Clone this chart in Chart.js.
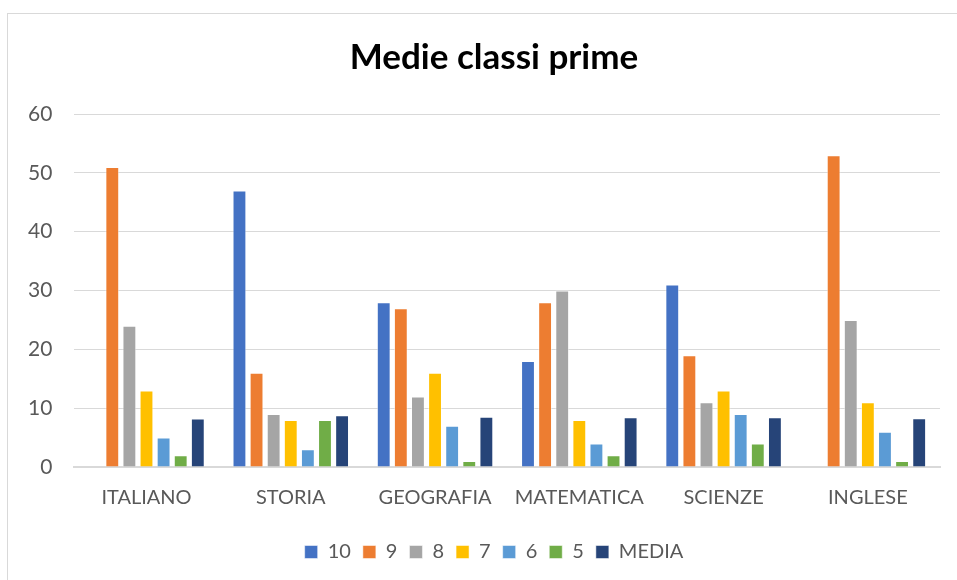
<!DOCTYPE html>
<html>
<head>
<meta charset="utf-8">
<script src="https://cdn.jsdelivr.net/npm/chart.js@4"></script>
<style>
  html, body { margin: 0; padding: 0; background: #fff; }
  #wrap { position: relative; width: 957px; height: 580px; }
  #frame { position: absolute; left: 7px; top: 13px; width: 960px; height: 580px; border: 1px solid #d9d9d9; box-sizing: border-box; }
  canvas { position: absolute; left: 0; top: 0; }
</style>
</head>
<body>
<div id="wrap">
  <div id="frame"></div>
  <canvas id="BarChart" width="957" height="580"></canvas>
</div>
<script>
const materie = ['ITALIANO', 'STORIA', 'GEOGRAFIA', 'MATEMATICA', 'SCIENZE', 'INGLESE'];
const voto10 = [0, 47, 28, 18, 31, 0];
const voto9 = [51, 16, 27, 28, 19, 53];
const voto8 = [24, 9, 12, 30, 11, 25];
const voto7 = [13, 8, 16, 8, 13, 11];
const voto6 = [5, 3, 7, 4, 9, 6];
const voto5 = [2, 8, 1, 2, 4, 1];
const media = [8.23, 8.79, 8.55, 8.47, 8.44, 8.28];
const yTicks = [0, 10, 20, 30, 40, 50, 60];

const font = "Lato, 'Open Sans', sans-serif";
const grey = '#595959';

const serie = [
  ['10', voto10, '#4472C4'],
  ['9', voto9, '#ED7D31'],
  ['8', voto8, '#A5A5A5'],
  ['7', voto7, '#FFC000'],
  ['6', voto6, '#5B9BD5'],
  ['5', voto5, '#70AD47'],
  ['MEDIA', media, '#264478']
];

// y axis box is narrowed in afterFit, so widen its label clip area back again
const widenYAxis = {
  id: 'widenYAxis',
  afterLayout(chart) {
    chart.scales.y.left = 0;
  }
};

const ctx = document.getElementById('BarChart');

new Chart(ctx, {
  type: 'bar',
  data: {
    labels: materie,
    datasets: serie.map(([label, data, color]) => ({
      label: label,
      data: data,
      backgroundColor: color,
      borderColor: 'rgba(255,255,255,0.5)',
      borderWidth: 1,
      barPercentage: 0.81,
      categoryPercentage: 0.83
    }))
  },
  plugins: [widenYAxis],
  options: {
    responsive: false,
    animation: false,
    // extra left padding shifts title/legend right, y axis gives it back below
    layout: { padding: { left: 48, right: 17, top: 0, bottom: 8 } },
    plugins: {
      title: {
        display: true,
        text: 'Medie classi prime',
        color: '#000',
        font: { family: font, size: 35, weight: 'bold' },
        padding: { top: 37, bottom: 35 }
      },
      legend: {
        position: 'bottom',
        labels: {
          color: grey,
          font: { family: font, size: 20 },
          boxWidth: 13,
          boxHeight: 13,
          padding: 12
        }
      },
      tooltip: { enabled: false }
    },
    scales: {
      x: {
        grid: { display: false },
        border: { color: '#d9d9d9', width: 2 },
        ticks: { color: grey, font: { family: font, size: 20 }, padding: 11 },
        afterFit: (axis) => { axis.height += 9; }
      },
      y: {
        min: 0,
        max: 60,
        afterBuildTicks: (axis) => { axis.ticks = yTicks.map(v => ({ value: v })); },
        grid: { color: '#d9d9d9', lineWidth: 1, drawTicks: false },
        border: { display: false },
        ticks: { color: grey, font: { family: font, size: 21 }, padding: 22 },
        afterFit: (axis) => { axis.width -= 42; }
      }
    }
  }
});
</script>
</body>
</html>
